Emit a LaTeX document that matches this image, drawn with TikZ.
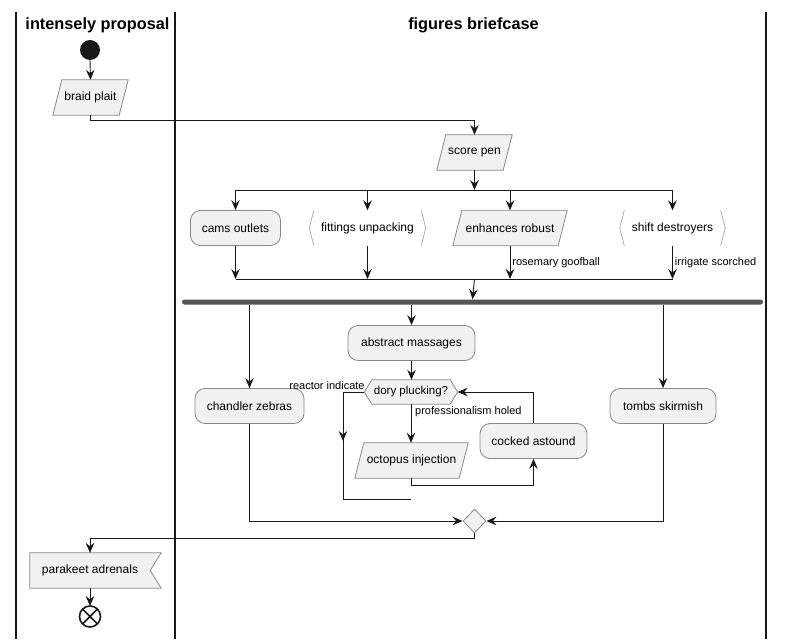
\documentclass[tikz,border=0pt]{standalone}
\usepackage{fontspec}
\setmainfont{Liberation Sans}
\usetikzlibrary{arrows.meta,shapes.geometric}
\pgfdeclarelayer{bg}
\pgfsetlayers{bg,main}
\definecolor{nfill}{RGB}{241,241,241}
\definecolor{nline}{RGB}{136,136,136}
\definecolor{blk}{RGB}{24,24,24}
\definecolor{barc}{RGB}{85,85,85}
\definecolor{brkc}{RGB}{175,175,175}
\tikzset{
  title/.style={font=\fontsize{16.3}{19}\selectfont\bfseries, text=black, inner sep=0pt},
  txt/.style={font=\fontsize{12}{14}\selectfont, text=black, inner sep=0pt, minimum height=35pt},
  rbox/.style={txt, draw=nline, fill=nfill, rounded corners=10pt, line width=0.8pt},
  lbl/.style={font=\fontsize{11}{13}\selectfont, text=black, inner sep=0pt},
  shp/.style={draw=nline, fill=nfill, line width=0.8pt},
  brk/.style={draw=brkc, line width=0.8pt},
  lane/.style={draw=blk, line width=1.6pt},
  line/.style={draw=blk, line width=0.9pt},
  arr/.style={line, -{Stealth[length=10pt,width=8.5pt,inset=3.5pt]}},
}
\newcommand\pshape[1]{\draw[shp] ([xshift=-4.5pt]#1.south west) -- ([xshift=4.5pt]#1.north west) -- ([xshift=4.5pt]#1.north east) -- ([xshift=-4.5pt]#1.south east) -- cycle;}
\newcommand\bshape[1]{\draw[brk] ([xshift=4.5pt]#1.north west) -- (#1.west) -- ([xshift=4.5pt]#1.south west);
  \draw[brk] ([xshift=-4.5pt]#1.north east) -- (#1.east) -- ([xshift=-4.5pt]#1.south east);}
\begin{document}
\begin{tikzpicture}[x=1pt,y=-1pt]
\useasboundingbox (0,0) rectangle (786,639);
% lanes
\draw[lane] (16,12) -- (16,639);
\draw[lane] (175,12) -- (175,639);
\draw[lane] (766,12) -- (766,639);
\node[title] (t1) at (97.5,25) {intensely proposal};
\node[title] (t2) at (473.5,25) {figures briefcase};

% start
\node[circle, fill=blk, minimum size=20pt, inner sep=0pt] (st) at (90,50) {};
% braid plait
\node[txt, minimum width=66pt] (bp) at (90.5,97.5) {braid plait};
% score pen
\node[txt, minimum width=66pt] (sp) at (474.5,152.5) {score pen};
% split
\coordinate (fk) at (474.5,190);
\node[rbox, minimum width=90pt] (co) at (235.5,228) {cams outlets};
\node[txt, minimum width=116pt] (fu) at (367.5,228) {fittings unpacking};
\node[txt, minimum width=105pt] (er) at (510,228) {enhances robust};
\node[txt, minimum width=105pt] (sd) at (672.5,228) {shift destroyers};
\coordinate (mg) at (474.5,279);
% fork bar
\node[fill=barc, rounded corners=2.5pt, minimum width=581pt, minimum height=5pt, inner sep=0pt] (bar) at (472.5,302) {};
% branches
\node[rbox, minimum width=109pt] (cz) at (249.5,406) {chandler zebras};
\node[rbox, minimum width=127pt] (am) at (411.5,343) {abstract massages};
\node[txt, minimum width=78pt, minimum height=24pt, font=\fontsize{11.5}{13}\selectfont] (dp) at (411,392) {dory plucking?};
\node[txt, minimum width=104pt] (oi) at (411.5,460.5) {octopus injection};
\node[rbox, minimum width=107pt] (ca) at (533.5,441) {cocked astound};
\node[rbox, minimum width=106pt] (ts) at (663,406) {tombs skirmish};
\node[diamond, draw=nline, fill=nfill, line width=0.8pt, minimum width=23pt, minimum height=24pt, inner sep=0pt] (md) at (474.5,521) {};
\node[txt, minimum width=120pt] (pa) at (90,570.5) {parakeet adrenals};
\node[circle, draw=blk, line width=1.6pt, fill=white, minimum size=21pt, inner sep=0pt, outer sep=0pt] (en) at (90,616.5) {};
\draw[blk, line width=1.6pt] (en.north west) -- (en.south east) (en.north east) -- (en.south west);

\begin{pgfonlayer}{bg}
  \pshape{bp}
  \pshape{sp}
  \pshape{er}
  \pshape{oi}
  \draw[shp] ([xshift=-7.5pt]dp.west) -- (dp.north west) -- (dp.north east) -- ([xshift=7.5pt]dp.east) -- (dp.south east) -- (dp.south west) -- cycle;
  \draw[shp] (pa.north west) -- ([xshift=11pt]pa.north east) -- (pa.east) -- ([xshift=11pt]pa.south east) -- (pa.south west) -- cycle;
\end{pgfonlayer}
\bshape{fu}
\bshape{sd}

% connectors
\draw[arr] (st.south) -- (bp.north);
\draw[arr] (bp.south) -- ++(0,5) -| (sp.north);
\draw[arr] (sp.south) -- (fk);
\draw[line] (co.north |- fk) -- (sd.north |- fk);
\foreach \n in {co,fu,er,sd} \draw[arr] (\n.north |- fk) -- (\n.north);
\foreach \n in {co,fu} \draw[arr] (\n.south) -- (\n.south |- mg);
\draw[arr] (er.south) -- (er.south |- mg) node[lbl, anchor=west, pos=0.5, xshift=2pt] {rosemary goofball};
\draw[arr] (sd.south) -- (sd.south |- mg) node[lbl, anchor=west, pos=0.5, xshift=2pt] {irrigate scorched};
\draw[line] (co.south |- mg) -- (sd.south |- mg);
\draw[arr] (mg) -- (bar.north);
\draw[arr] (bar.south -| cz.north) -- (cz.north);
\draw[arr] (bar.south -| am.north) -- (am.north);
\draw[arr] (bar.south -| ts.north) -- (ts.north);
\draw[arr] (am.south) -- (dp.north -| am.south);
\draw[arr] (dp.south) -- (dp.south |- oi.north);
\node[lbl, anchor=west] (lph) at ([xshift=4pt,yshift=-7.5pt]dp.south) {professionalism holed};
\node[lbl, anchor=east] (lri) at ([xshift=-7pt,yshift=6pt]dp.west) {reactor indicate};
\coordinate (lp) at (343,499);
\draw[line] ([xshift=-7.5pt]dp.west) -| (lp) -- (lp -| dp.south);
\draw[arr] (lp |- dp.west) -- ++(0,49);
\draw[arr] (oi.south) -- ++(0,7) -| (ca.south);
\draw[arr] (ca.north) |- ([xshift=7.5pt]dp.east);
\draw[arr] (cz.south) |- (md.west);
\draw[arr] (ts.south) |- (md.east);
\draw[arr] (md.south) -- ++(0,5) -| (pa.north);
\draw[arr] (pa.south) -- (en.north);
\end{tikzpicture}
\end{document}
